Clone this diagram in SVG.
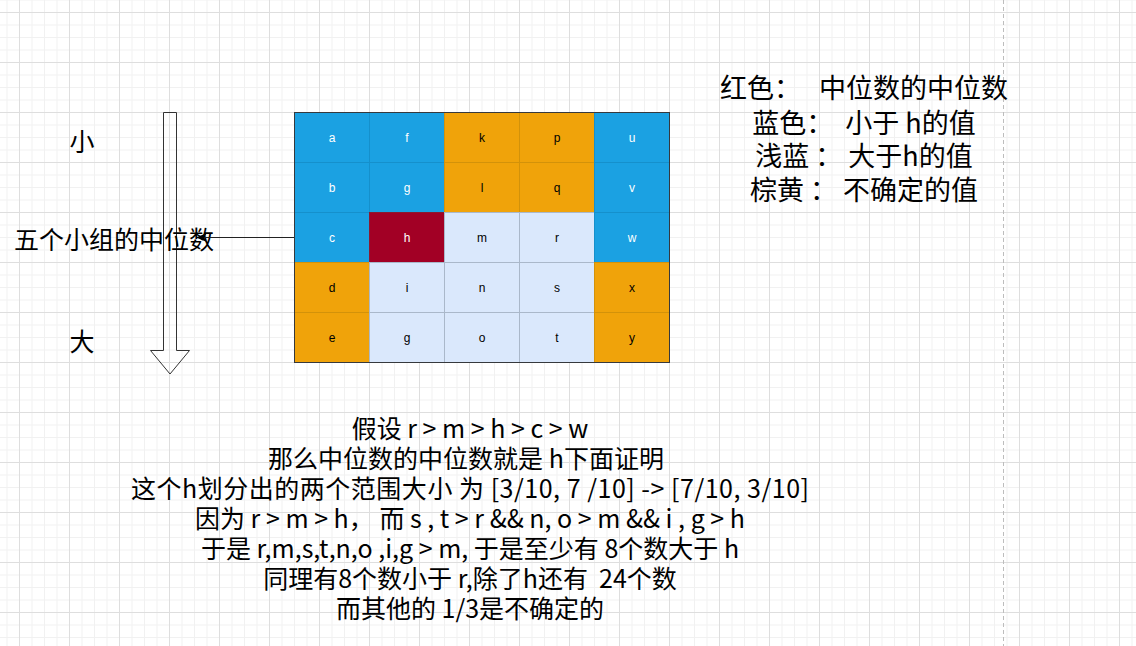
<svg xmlns="http://www.w3.org/2000/svg" width="1136" height="646" viewBox="0 0 1136 646">
<defs>
<pattern id="grid" x="19" y="12" width="50" height="50" patternUnits="userSpaceOnUse">
<rect x="12.5" y="0" width="1" height="50" fill="#f1f1f1"/>
<rect x="25" y="0" width="1" height="50" fill="#f1f1f1"/>
<rect x="37.5" y="0" width="1" height="50" fill="#f1f1f1"/>
<rect x="0" y="12.5" width="50" height="1" fill="#f1f1f1"/>
<rect x="0" y="25" width="50" height="1" fill="#f1f1f1"/>
<rect x="0" y="37.5" width="50" height="1" fill="#f1f1f1"/>
<rect x="0" y="0" width="1" height="50" fill="#dedede"/>
<rect x="0" y="0" width="50" height="1" fill="#dedede"/>
</pattern>
<marker id="arrow" viewBox="0 0 10 10" refX="9" refY="5" markerWidth="11" markerHeight="11" markerUnits="userSpaceOnUse" orient="auto">
<path d="M0,1 L10,5 L0,9 L2.5,5 Z" fill="#000"/>
</marker>
<style>
.cell text{font-family:"Liberation Sans",Arial,sans-serif;font-size:12px;text-anchor:middle;dominant-baseline:central}
.blue rect{fill:#1ba1e2;stroke:#1590cc}
.orange rect{fill:#f0a30a;stroke:#d39209}
.red rect{fill:#a20025;stroke:#8a1a30}
.light rect{fill:#dae8fc;stroke:#aab8ca}
.blue text,.red text{fill:#ffffff}
.orange text,.light text{fill:#000000}
.lbl{font-family:"Noto Sans CJK SC","Noto Sans",sans-serif;fill:#000;text-anchor:middle;dominant-baseline:central;white-space:pre}
.big{font-size:25px}
.leg{font-size:27px}
</style>
</defs>
<rect x="0" y="0" width="1136" height="646" fill="#ffffff"/>
<rect x="0" y="0" width="1136" height="646" fill="url(#grid)"/>
<line x1="1003.5" y1="0" x2="1003.5" y2="646" stroke="#bdbdbd" stroke-width="1" stroke-dasharray="4 3"/>

<g id="table">
<g id="cell-a" class="cell blue"><rect x="294.5" y="112.5" width="75" height="50"/><text x="332" y="137.5">a</text></g>
<g id="cell-f" class="cell blue"><rect x="369.5" y="112.5" width="75" height="50"/><text x="407" y="137.5">f</text></g>
<g id="cell-k" class="cell orange"><rect x="444.5" y="112.5" width="75" height="50"/><text x="482" y="137.5">k</text></g>
<g id="cell-p" class="cell orange"><rect x="519.5" y="112.5" width="75" height="50"/><text x="557" y="137.5">p</text></g>
<g id="cell-u" class="cell blue"><rect x="594.5" y="112.5" width="75" height="50"/><text x="632" y="137.5">u</text></g>

<g id="cell-b" class="cell blue"><rect x="294.5" y="162.5" width="75" height="50"/><text x="332" y="187.5">b</text></g>
<g id="cell-g" class="cell blue"><rect x="369.5" y="162.5" width="75" height="50"/><text x="407" y="187.5">g</text></g>
<g id="cell-l" class="cell orange"><rect x="444.5" y="162.5" width="75" height="50"/><text x="482" y="187.5">l</text></g>
<g id="cell-q" class="cell orange"><rect x="519.5" y="162.5" width="75" height="50"/><text x="557" y="187.5">q</text></g>
<g id="cell-v" class="cell blue"><rect x="594.5" y="162.5" width="75" height="50"/><text x="632" y="187.5">v</text></g>

<g id="cell-c" class="cell blue"><rect x="294.5" y="212.5" width="75" height="50"/><text x="332" y="237.5">c</text></g>
<g id="cell-h" class="cell red"><rect x="369.5" y="212.5" width="75" height="50"/><text x="407" y="237.5">h</text></g>
<g id="cell-m" class="cell light"><rect x="444.5" y="212.5" width="75" height="50"/><text x="482" y="237.5">m</text></g>
<g id="cell-r" class="cell light"><rect x="519.5" y="212.5" width="75" height="50"/><text x="557" y="237.5">r</text></g>
<g id="cell-w" class="cell blue"><rect x="594.5" y="212.5" width="75" height="50"/><text x="632" y="237.5">w</text></g>

<g id="cell-d" class="cell orange"><rect x="294.5" y="262.5" width="75" height="50"/><text x="332" y="287.5">d</text></g>
<g id="cell-i" class="cell light"><rect x="369.5" y="262.5" width="75" height="50"/><text x="407" y="287.5">i</text></g>
<g id="cell-n" class="cell light"><rect x="444.5" y="262.5" width="75" height="50"/><text x="482" y="287.5">n</text></g>
<g id="cell-s" class="cell light"><rect x="519.5" y="262.5" width="75" height="50"/><text x="557" y="287.5">s</text></g>
<g id="cell-x" class="cell orange"><rect x="594.5" y="262.5" width="75" height="50"/><text x="632" y="287.5">x</text></g>

<g id="cell-e" class="cell orange"><rect x="294.5" y="312.5" width="75" height="50"/><text x="332" y="337.5">e</text></g>
<g id="cell-g2" class="cell light"><rect x="369.5" y="312.5" width="75" height="50"/><text x="407" y="337.5">g</text></g>
<g id="cell-o" class="cell light"><rect x="444.5" y="312.5" width="75" height="50"/><text x="482" y="337.5">o</text></g>
<g id="cell-t" class="cell light"><rect x="519.5" y="312.5" width="75" height="50"/><text x="557" y="337.5">t</text></g>
<g id="cell-y" class="cell orange"><rect x="594.5" y="312.5" width="75" height="50"/><text x="632" y="337.5">y</text></g>
<rect x="294.5" y="112.5" width="375" height="250" fill="none" stroke="#36393d" stroke-width="1"/>
</g>

<g id="order-arrow">
<path d="M163.5,112.5 L176.5,112.5 L176.5,350.5 L189.5,350.5 L170,374 L150.5,350.5 L163.5,350.5 Z" fill="none" stroke="#333333" stroke-width="1"/>
</g>

<g id="label-small"><text class="lbl big" x="82" y="140">小</text></g>
<g id="label-big"><text class="lbl big" x="82" y="340">大</text></g>
<g id="label-medians"><text class="lbl big" x="114" y="238">五个小组的中位数</text></g>

<g id="connectors">
<line x1="294" y1="237.5" x2="197" y2="237.5" stroke="#222" stroke-width="1" marker-end="url(#arrow)"/>
</g>

<g id="legend">
<text class="lbl leg" x="864" y="86.5">红色：   中位数的中位数</text>
<text class="lbl leg" x="864" y="121">蓝色：  小于 h的值</text>
<text class="lbl leg" x="864" y="154.5">浅蓝 ： 大于h的值</text>
<text class="lbl leg" x="864" y="188">棕黄 ： 不确定的值</text>
</g>

<g id="proof">
<text class="lbl big" x="470" y="427">假设 r &gt; m &gt; h &gt; c &gt; w</text>
<text class="lbl big" x="466" y="457">那么中位数的中位数就是 h下面证明</text>
<text class="lbl big" x="470" y="487" textLength="678" lengthAdjust="spacing">这个h划分出的两个范围大小 为 [3/10, 7 /10] -&gt; [7/10, 3/10]</text>
<text class="lbl big" x="470" y="517">因为 r &gt; m &gt; h， 而 s , t &gt; r &amp;&amp; n, o &gt; m &amp;&amp; i , g &gt; h</text>
<text class="lbl big" x="470" y="547">于是 r,m,s,t,n,o ,i,g &gt; m, 于是至少有 8个数大于 h</text>
<text class="lbl big" x="470" y="577">同理有8个数小于 r,除了h还有  24个数</text>
<text class="lbl big" x="470" y="607">而其他的 1/3是不确定的</text>
</g>
</svg>
